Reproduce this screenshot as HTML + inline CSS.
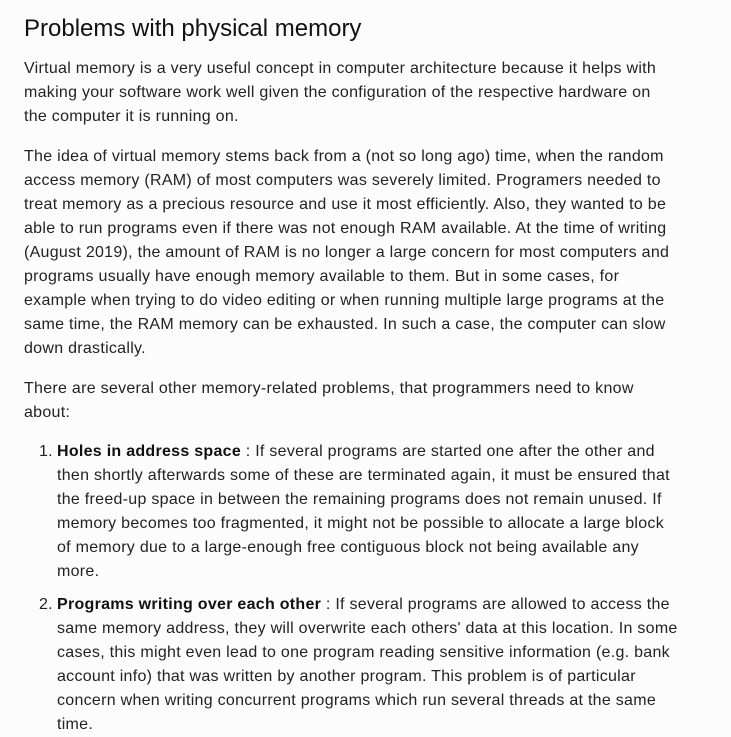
<!DOCTYPE html>
<html><head><meta charset="utf-8"><style>
body{margin:0;width:731px;height:731px;overflow:hidden;background:#fcfcfd;font-family:"Liberation Sans",sans-serif;color:#222;}
h1{position:absolute;left:24px;top:13px;margin:0;font-size:24px;font-weight:normal;line-height:32px;color:#111;letter-spacing:0px}
.l{position:absolute;white-space:nowrap;font-size:16px;line-height:24px;letter-spacing:0.28px}
b{font-weight:bold;color:#111}
</style></head><body>
<div>
<h1>Problems with physical memory</h1>
<div>
<div class="l" style="left:24px;top:57px">Virtual memory is a very useful concept in computer architecture because it helps with</div>
<div class="l" style="left:24px;top:81px">making your software work well given the configuration of the respective hardware on</div>
<div class="l" style="left:24px;top:105px">the computer it is running on.</div>
</div>
<div>
<div class="l" style="left:24px;top:145px">The idea of virtual memory stems back from a (not so long ago) time, when the random</div>
<div class="l" style="left:24px;top:169px">access memory (RAM) of most computers was severely limited. Programers needed to</div>
<div class="l" style="left:24px;top:193px">treat memory as a precious resource and use it most efficiently. Also, they wanted to be</div>
<div class="l" style="left:24px;top:217px">able to run programs even if there was not enough RAM available. At the time of writing</div>
<div class="l" style="left:24px;top:241px">(August 2019), the amount of RAM is no longer a large concern for most computers and</div>
<div class="l" style="left:24px;top:265px">programs usually have enough memory available to them. But in some cases, for</div>
<div class="l" style="left:24px;top:289px">example when trying to do video editing or when running multiple large programs at the</div>
<div class="l" style="left:24px;top:313px">same time, the RAM memory can be exhausted. In such a case, the computer can slow</div>
<div class="l" style="left:24px;top:337px">down drastically.</div>
</div>
<div>
<div class="l" style="left:24px;top:377px">There are several other memory-related problems, that programmers need to know</div>
<div class="l" style="left:24px;top:401px">about:</div>
</div>
<div>
<div class="l" style="left:39px;top:440px">1.</div>
<div class="l" style="left:57px;top:440px"><b>Holes in address space</b> : If several programs are started one after the other and</div>
<div class="l" style="left:57px;top:464px">then shortly afterwards some of these are terminated again, it must be ensured that</div>
<div class="l" style="left:57px;top:488px">the freed-up space in between the remaining programs does not remain unused. If</div>
<div class="l" style="left:57px;top:512px">memory becomes too fragmented, it might not be possible to allocate a large block</div>
<div class="l" style="left:57px;top:536px">of memory due to a large-enough free contiguous block not being available any</div>
<div class="l" style="left:57px;top:560px">more.</div>
</div>
<div>
<div class="l" style="left:39px;top:593px">2.</div>
<div class="l" style="left:57px;top:593px"><b>Programs writing over each other</b> : If several programs are allowed to access the</div>
<div class="l" style="left:57px;top:617px">same memory address, they will overwrite each others' data at this location. In some</div>
<div class="l" style="left:57px;top:641px">cases, this might even lead to one program reading sensitive information (e.g. bank</div>
<div class="l" style="left:57px;top:665px">account info) that was written by another program. This problem is of particular</div>
<div class="l" style="left:57px;top:689px">concern when writing concurrent programs which run several threads at the same</div>
<div class="l" style="left:57px;top:713px">time.</div>
</div>
</div>
</body></html>
